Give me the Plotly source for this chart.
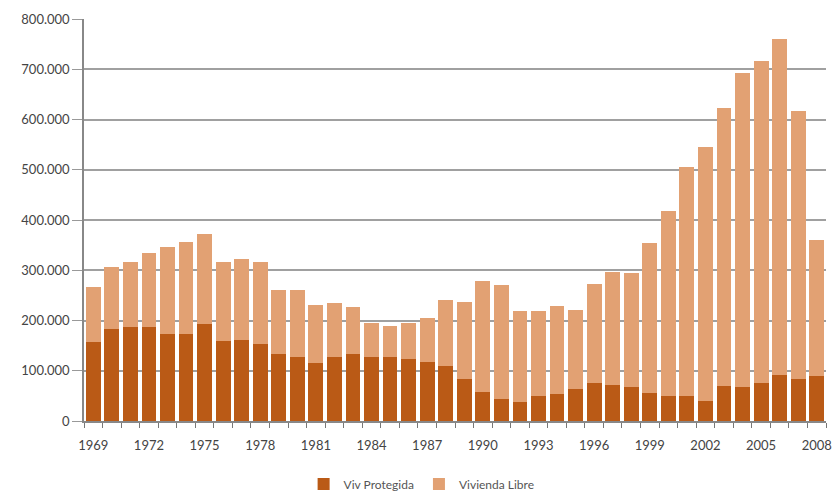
import plotly.graph_objects as go

years = [str(y) for y in range(1969, 2009)]
total = [267, 306, 317, 334, 347, 357, 372, 317, 322, 317,
         260, 261, 231, 234, 226, 196, 190, 196, 205, 241,
         236, 279, 271, 219, 219, 229, 220, 273, 297, 295,
         355, 417, 505, 545, 623, 692, 716, 760, 617, 360]
protegida = [157, 183, 187, 187, 174, 174, 193, 159, 161, 154,
             133, 127, 115, 128, 133, 127, 127, 123, 118, 110,
             84, 58, 43, 38, 50, 54, 63, 76, 72, 67,
             55, 50, 50, 40, 70, 67, 76, 92, 83, 90]
protegida = [v * 1000 for v in protegida]
libre = [t * 1000 - p for t, p in zip(total, protegida)]

ytick_vals = [0, 100000, 200000, 300000, 400000, 500000, 600000, 700000, 800000]
ytick_text = ["0", "100.000", "200.000", "300.000", "400.000", "500.000",
              "600.000", "700.000", "800.000"]
xtick_text = [y if (int(y) - 1969) % 3 == 0 else "" for y in years]

font = "Lato, 'Open Sans', sans-serif"

fig = go.Figure()
fig.add_trace(go.Bar(x=years, y=protegida, name="Viv Protegida",
                     marker=dict(color="#BA5A16", line=dict(width=0))))
fig.add_trace(go.Bar(x=years, y=libre, name="Vivienda Libre",
                     marker=dict(color="#E2A173", line=dict(width=0))))

fig.update_layout(
    barmode="stack",
    bargap=0.2,
    width=832, height=494,
    margin=dict(l=84, r=6, t=19, b=73, autoexpand=False),
    plot_bgcolor="white", paper_bgcolor="white",
    font=dict(family=font, size=13, color="#444"),
    showlegend=True,
    legend=dict(orientation="h", x=0.455, xanchor="center", y=-0.157, yanchor="middle",
                font=dict(size=12, color="#555"), itemwidth=30,
                traceorder="normal"),
    xaxis=dict(type="category", tickmode="array", tickvals=years, ticktext=xtick_text,
               tickson="boundaries", ticks="outside", ticklen=5, tickcolor="#777",
               ticklabelstandoff=12,
               showline=True, linecolor="#888", linewidth=1.5, automargin=False,
               showgrid=False, tickangle=0, tickfont=dict(size=13, color="#444")),
    yaxis=dict(range=[0, 800000], tickmode="array", tickvals=ytick_vals, ticktext=ytick_text,
               ticks="outside", ticklen=10, tickcolor="#999", automargin=False,
               showgrid=True, gridcolor="#A0A0A0", gridwidth=1.5,
               showline=True, linecolor="#888", linewidth=1.5,
               zeroline=False, tickfont=dict(size=13, color="#444")),
)

fig.write_html("out.html", config={"displayModeBar": False},
               post_script="document.body.style.margin='0px';")
